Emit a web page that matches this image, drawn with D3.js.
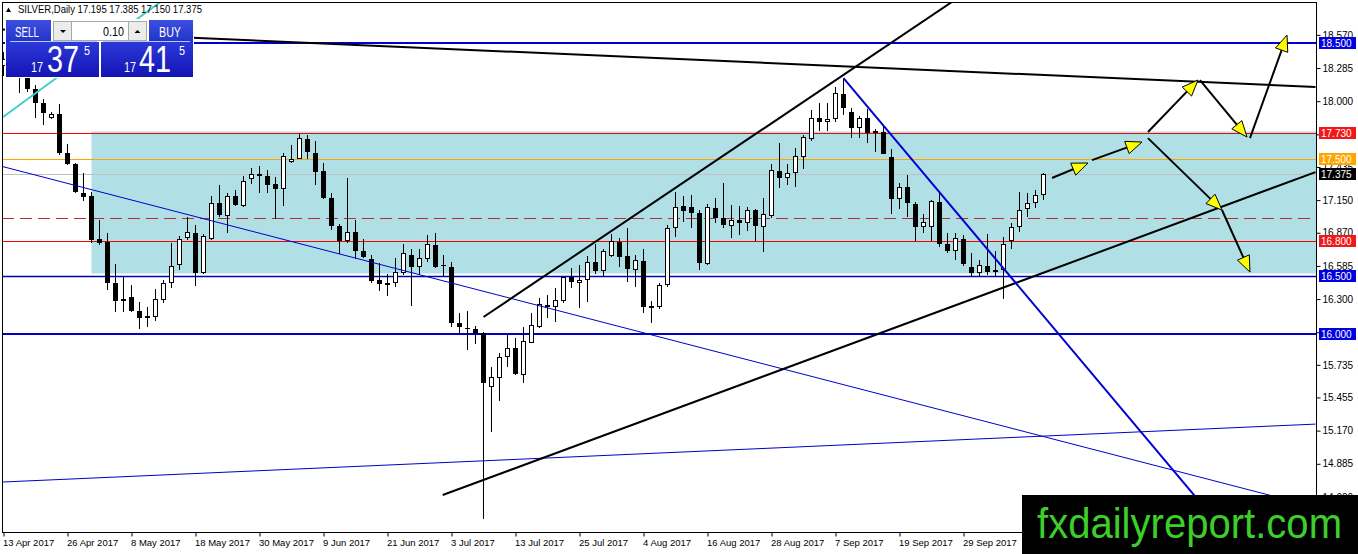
<!DOCTYPE html>
<html><head><meta charset="utf-8">
<script src="https://cdn.jsdelivr.net/npm/d3@7/dist/d3.min.js"></script>
<style>
html,body{margin:0;padding:0;background:#fff;}
svg{display:block;}
</style></head><body>
<svg id="c" width="1358" height="554"></svg>
<script>
// ---------------- DATA ----------------
const symbolTitle = "SILVER,Daily";
const lastQuote = ["17.195","17.385","17.150","17.375"];
const tickDates = ["13 Apr 2017","26 Apr 2017","8 May 2017","18 May 2017","30 May 2017","9 Jun 2017","21 Jun 2017","3 Jul 2017","13 Jul 2017","25 Jul 2017","4 Aug 2017","16 Aug 2017","28 Aug 2017","7 Sep 2017","19 Sep 2017","29 Sep 2017"];
const tickBars = [0,8,16,24,32,40,48,56,64,72,80,88,96,104,112,120];
const priceTicks = [18.570,18.285,18.000,17.715,17.435,17.150,16.870,16.585,16.300,16.015,15.735,15.455,15.170,14.885,14.600];

const opens = [18.30,18.36,18.32,18.25,18.104,17.984,17.855,17.890,17.555,17.460,
17.211,17.185,16.816,16.790,16.438,16.283,16.318,16.198,16.137,16.146,
16.292,16.438,16.592,16.824,16.867,16.524,16.816,17.125,17.014,17.185,
17.099,17.331,17.374,17.357,17.288,17.245,17.478,17.504,17.676,17.555,
17.400,17.168,16.927,16.798,16.876,16.713,16.644,16.464,16.420,16.438,
16.524,16.678,16.575,16.644,16.764,16.592,16.575,16.094,16.051,16.043,
16.009,15.544,15.622,15.802,15.879,15.647,15.922,16.060,16.249,16.232,
16.283,16.489,16.438,16.464,16.618,16.541,16.670,16.790,16.670,16.549,
16.627,16.223,16.232,16.420,16.910,17.099,17.091,17.039,16.601,17.082,
16.996,16.927,16.979,16.953,17.065,16.919,17.014,17.400,17.340,17.383,
17.521,17.676,17.855,17.821,17.847,18.061,17.907,17.769,17.855,17.727,
17.735,17.521,17.159,17.263,17.117,16.919,16.919,17.134,16.773,16.713,
16.816,16.575,16.524,16.584,16.532,16.549,16.798,16.919,17.073,17.125,
17.195];
const highs = [18.42,18.44,18.40,18.30,18.139,18.018,17.907,17.976,17.632,17.470,
17.383,17.220,16.979,16.867,16.601,16.489,16.420,16.275,16.232,16.386,
16.464,16.781,16.842,17.005,16.936,16.859,17.185,17.280,17.211,17.237,
17.357,17.426,17.443,17.409,17.348,17.555,17.624,17.718,17.710,17.658,
17.469,17.211,16.945,17.340,16.979,16.816,16.678,16.610,16.515,16.652,
16.773,16.730,16.730,16.850,16.867,16.678,16.618,16.180,16.198,16.069,
16.020,15.716,15.836,15.991,15.965,16.060,16.180,16.309,16.335,16.395,
16.490,16.567,16.592,16.670,16.773,16.730,16.859,16.824,16.910,16.678,
16.730,16.283,16.438,16.936,17.220,17.185,17.194,17.065,17.117,17.168,
17.297,17.108,17.099,17.091,17.070,17.168,17.460,17.641,17.460,17.598,
17.710,17.924,17.984,17.984,18.122,18.190,17.941,17.872,17.933,17.761,
17.795,17.589,17.297,17.366,17.134,17.031,17.151,17.211,16.867,16.867,
16.850,16.696,16.635,16.859,16.713,16.833,16.953,17.220,17.211,17.237,
17.385];
const lows = [18.22,18.23,18.07,18.079,17.855,17.795,17.850,17.538,17.452,17.211,
17.142,16.781,16.764,16.378,16.189,16.189,16.189,16.043,16.060,16.112,
16.266,16.395,16.549,16.807,16.412,16.515,16.807,17.005,16.867,17.099,
17.091,17.288,17.211,17.211,16.988,17.099,17.469,17.500,17.504,17.280,
17.159,16.893,16.687,16.781,16.644,16.652,16.438,16.369,16.326,16.403,
16.507,16.240,16.507,16.618,16.570,16.498,16.060,16.000,15.862,15.914,
14.410,15.157,15.424,15.716,15.647,15.579,15.920,16.055,16.137,16.103,
16.266,16.395,16.223,16.275,16.515,16.489,16.661,16.575,16.446,16.403,
16.180,16.094,16.215,16.403,16.833,16.962,16.910,16.549,16.592,16.953,
16.910,16.824,16.850,16.884,16.798,16.704,16.996,17.254,17.280,17.263,
17.417,17.658,17.744,17.744,17.821,17.881,17.684,17.684,17.641,17.564,
17.546,17.031,17.073,17.005,16.798,16.867,16.798,16.747,16.696,16.635,
16.584,16.489,16.489,16.507,16.489,16.300,16.730,16.876,17.005,17.082,
17.150];
const closes = [18.36,18.32,18.25,18.104,17.984,17.898,17.890,17.555,17.460,17.220,
17.177,16.807,16.781,16.438,16.283,16.300,16.198,16.137,16.155,16.300,
16.438,16.584,16.816,16.876,16.524,16.842,17.125,17.022,17.185,17.108,
17.314,17.374,17.357,17.280,17.245,17.529,17.504,17.684,17.564,17.391,
17.168,16.927,16.798,16.876,16.713,16.661,16.455,16.429,16.438,16.532,
16.696,16.575,16.652,16.773,16.575,16.584,16.094,16.060,16.043,16.009,
15.579,15.630,15.802,15.879,15.656,15.939,16.077,16.257,16.232,16.292,
16.489,16.446,16.464,16.618,16.541,16.713,16.798,16.661,16.558,16.635,
16.232,16.240,16.420,16.910,17.091,17.056,17.039,16.610,17.091,16.996,
16.936,16.979,16.953,17.065,16.927,17.031,17.409,17.340,17.383,17.529,
17.693,17.855,17.821,17.847,18.070,17.941,17.769,17.855,17.727,17.744,
17.546,17.159,17.263,17.125,16.919,16.962,17.142,16.773,16.713,16.824,
16.601,16.524,16.592,16.532,16.549,16.773,16.919,17.065,17.125,17.194,
17.375];

// horizontal levels (price)
const levelResistTop = 18.500;
const levelRedHigh = 17.730;
const levelOrange = 17.500;
const levelBid = 17.375;
const levelMidDashed = 17.000;
const levelRedLow = 16.800;
const levelBlueLow = 16.500;
const levelSupport = 16.000;

// shaded zone: start bar, top price, bottom price
const zoneStartBar = 11;
const zoneTop = 17.74;
const zoneBottom = 16.52;

// trend lines: pairs of [bar index, price]
const lineUpperResistance = [[-0.2,18.617],[164,18.122]];
const lineChannelUpper = [[60,16.146],[118.9,18.869]];
const lineChannelLower = [[54.9,14.617],[164,17.391]];
const lineSteepBlue = [[105,18.199],[152.7,14.299]];
const lineThinBlueDown = [[-0.2,17.440],[164,14.513]];
const lineThinBlueUp = [[-0.2,14.728],[164,15.226]];
const lineCyan = [[-0.06,17.864],[19.94,18.869]];

// projected path arrows: [from, to] as [bar index, price]
const arrowPaths = [
  [[131.06,17.340],[135.56,17.469]],
  [[136.06,17.494],[142.31,17.649]],
  [[143.06,17.735],[149.31,18.182]],
  [[149.56,18.182],[155.44,17.692]],
  [[155.81,17.683],[160.44,18.568]],
  [[143.06,17.683],[152.31,17.065]],
  [[152.31,17.065],[155.81,16.532]]
];

// ---------------- DRAW ----------------
const W = 1358, H = 554;
const plotL = 2, plotR = 1317, plotT = 2, plotB = 532;
const FONT = "'Liberation Sans', Arial, sans-serif";

const x = d3.scaleLinear().domain([0, 164]).range([3.5, 1315.5]);
const y = d3.scaleLinear().domain([16, 18.5]).range([334, 43]);

const svg = d3.select('#c');
svg.append('rect').attr('width', W).attr('height', H).attr('fill', '#fff');
const defs = svg.append('defs');
defs.append('clipPath').attr('id', 'plot').append('rect')
  .attr('x', plotL).attr('y', plotT).attr('width', plotR - plotL).attr('height', plotB - plotT);

const gBtn = defs.append('linearGradient').attr('id', 'gBtn').attr('x1', 0).attr('y1', 0).attr('x2', 0).attr('y2', 1);
gBtn.append('stop').attr('offset', '0%').attr('stop-color', '#3d4fe0');
gBtn.append('stop').attr('offset', '100%').attr('stop-color', '#2233c8');
const gBig = defs.append('linearGradient').attr('id', 'gBig').attr('x1', 0).attr('y1', 0).attr('x2', 0).attr('y2', 1);
gBig.append('stop').attr('offset', '0%').attr('stop-color', '#2c38d8');
gBig.append('stop').attr('offset', '100%').attr('stop-color', '#1414b4');

const g = svg.append('g').attr('clip-path', 'url(#plot)');

// zone
g.append('rect')
  .attr('x', x(zoneStartBar)).attr('y', y(zoneTop))
  .attr('width', plotR - x(zoneStartBar)).attr('height', y(zoneBottom) - y(zoneTop))
  .attr('fill', '#b0e0e6');

// horizontal level lines
function hline(price, color, width, dash) {
  const yy = Math.round(y(price)) + (width % 2 ? 0.5 : 0);
  const l = g.append('line').attr('x1', plotL).attr('x2', plotR).attr('y1', yy).attr('y2', yy)
    .attr('stroke', color).attr('stroke-width', width);
  if (dash) l.attr('stroke-dasharray', dash);
}
hline(levelBid, '#c0c0c0', 1);
hline(levelMidDashed, '#b03030', 1, '12,6');
hline(levelOrange, '#ffa500', 1);
hline(levelRedHigh, '#ff0000', 1);
hline(levelRedLow, '#ff0000', 1);
hline(levelBlueLow, '#0000b4', 1.5);
hline(levelSupport, '#0000c0', 2);
hline(levelResistTop, '#0000d0', 2);

// candles
const bars = d3.range(opens.length);
g.append('g').selectAll('line').data(bars).join('line')
  .attr('x1', i => x(i)).attr('x2', i => x(i))
  .attr('y1', i => Math.round(y(highs[i]))).attr('y2', i => Math.round(y(lows[i])))
  .attr('stroke', '#000').attr('stroke-width', 1);
g.append('g').selectAll('rect').data(bars).join('rect')
  .each(function(i) {
    const o = opens[i], c = closes[i];
    const top = Math.round(y(Math.max(o, c)));
    const bot = Math.round(y(Math.min(o, c)));
    const el = d3.select(this);
    if (c >= o) {
      el.attr('x', x(i) - 2).attr('y', top + 0.5).attr('width', 4)
        .attr('height', Math.max(0, bot - top - 1))
        .attr('fill', '#fff').attr('stroke', '#000').attr('stroke-width', 1);
    } else {
      el.attr('x', x(i) - 2.5).attr('y', top).attr('width', 5)
        .attr('height', Math.max(1, bot - top)).attr('fill', '#000');
    }
  });

// trend lines
const lineGen = d3.line().x(d => x(d[0])).y(d => y(d[1]));
function tline(pts, color, width) {
  g.append('path').attr('d', lineGen(pts)).attr('fill', 'none')
    .attr('stroke', color).attr('stroke-width', width);
}
tline(lineThinBlueDown, '#0000c8', 1);
tline(lineThinBlueUp, '#0000c8', 1);
tline(lineCyan, '#40d0c8', 2);
tline(lineUpperResistance, '#000', 2);
tline(lineChannelUpper, '#000', 2);
tline(lineChannelLower, '#000', 2);
tline(lineSteepBlue, '#0000d0', 2);

// arrows
arrowPaths.forEach(seg => {
  const x1 = x(seg[0][0]), y1 = y(seg[0][1]), x2 = x(seg[1][0]), y2 = y(seg[1][1]);
  const len = Math.hypot(x2 - x1, y2 - y1);
  const ux = (x2 - x1) / len, uy = (y2 - y1) / len;
  const px = -uy, py = ux;
  const hl = 16, hw = 6.5;
  g.append('line').attr('x1', x1).attr('y1', y1).attr('x2', x2 - ux * 6).attr('y2', y2 - uy * 6)
    .attr('stroke', '#000').attr('stroke-width', 2);
  const bx = x2 - ux * hl, by = y2 - uy * hl;
  g.append('polygon')
    .attr('points', [[x2, y2], [bx + px * hw, by + py * hw], [bx - px * hw, by - py * hw]].map(p => p.join(',')).join(' '))
    .attr('fill', '#ffff00').attr('stroke', '#000').attr('stroke-width', 1);
});

// frame
svg.append('rect').attr('x', plotL + 0.5).attr('y', plotT + 0.5)
  .attr('width', plotR - plotL - 1).attr('height', plotB - plotT)
  .attr('fill', 'none').attr('stroke', '#000').attr('stroke-width', 1);

// right price axis
const yAxis = d3.axisRight(y).tickValues(priceTicks).tickFormat(d3.format('.3f')).tickSize(4).tickPadding(2);
const ya = svg.append('g').attr('transform', `translate(${plotR - 0.5},0)`).call(yAxis);
ya.select('.domain').remove();
ya.selectAll('text').attr('font-family', FONT).attr('font-size', 10).attr('fill', '#000');
ya.selectAll('line').attr('stroke', '#000');

// bottom date axis
const xAxis = d3.axisBottom(x).tickValues(tickBars).tickFormat((d, i) => tickDates[i]).tickSize(4).tickPadding(3);
const xa = svg.append('g').attr('transform', `translate(0,${plotB + 0.5})`).call(xAxis);
xa.select('.domain').remove();
xa.selectAll('text').attr('font-family', FONT).attr('font-size', 9.5).attr('fill', '#000')
  .attr('text-anchor', 'start').attr('x', -1);
xa.selectAll('line').attr('stroke', '#000');

// price label boxes
function plabel(price, bg, fg) {
  const yy = Math.round(y(price));
  svg.append('rect').attr('x', 1319).attr('y', yy - 6).attr('width', 37).attr('height', 12).attr('fill', bg);
  svg.append('text').attr('x', 1321).attr('y', yy + 4).attr('font-family', FONT).attr('font-size', 10)
    .attr('fill', fg).text(d3.format('.3f')(price));
}
plabel(levelResistTop, '#0000e0', '#fff');
plabel(levelRedHigh, '#f01818', '#fff');
plabel(levelOrange, '#ffa500', '#fff');
plabel(levelBid, '#000', '#fff');
plabel(levelRedLow, '#f01818', '#fff');
plabel(levelBlueLow, '#0000e0', '#fff');
plabel(levelSupport, '#0000e0', '#fff');

// title
svg.append('path').attr('d', 'M6,12 L11,12 L8.5,7.5 Z').attr('fill', '#000');
svg.append('text').attr('x', 18).attr('y', 13).attr('font-family', FONT).attr('font-size', 10.5)
  .attr('fill', '#000').attr('textLength', 184).attr('lengthAdjust', 'spacingAndGlyphs')
  .text(symbolTitle + '  ' + lastQuote.join(' '));

// one-click trading panel
const p = svg.append('g');
function ptext(tx, ty, str, size, len, anchor, color) {
  const t = p.append('text').attr('x', tx).attr('y', ty).attr('font-family', FONT)
    .attr('font-size', size).attr('fill', color || '#fff').attr('text-anchor', anchor || 'start').text(str);
  if (len) t.attr('textLength', len).attr('lengthAdjust', 'spacingAndGlyphs');
}
p.append('rect').attr('x', 5).attr('y', 19).attr('width', 189).attr('height', 59).attr('fill', '#fff');
p.append('rect').attr('x', 6).attr('y', 20).attr('width', 45).attr('height', 22).attr('fill', 'url(#gBtn)');
p.append('rect').attr('x', 149).attr('y', 20).attr('width', 44).attr('height', 22).attr('fill', 'url(#gBtn)');
p.append('rect').attr('x', 53.5).attr('y', 21.5).attr('width', 18).attr('height', 19).attr('fill', '#ececec').attr('stroke', '#a8a8a8');
p.append('rect').attr('x', 71.5).attr('y', 21.5).attr('width', 57).attr('height', 19).attr('fill', '#fff').attr('stroke', '#a8a8a8');
p.append('rect').attr('x', 128.5).attr('y', 21.5).attr('width', 18).attr('height', 19).attr('fill', '#ececec').attr('stroke', '#a8a8a8');
p.append('path').attr('d', 'M60,30 L66,30 L63,33 Z').attr('fill', '#000');
p.append('path').attr('d', 'M134.5,33 L140.5,33 L137.5,30 Z').attr('fill', '#000');
ptext(124, 36, '0.10', 13, 21, 'end', '#000');
ptext(15, 37, 'SELL', 15, 24);
ptext(159, 37, 'BUY', 15, 22);
p.append('rect').attr('x', 6).attr('y', 42).attr('width', 93).attr('height', 35).attr('fill', 'url(#gBig)');
p.append('rect').attr('x', 101).attr('y', 42).attr('width', 92).attr('height', 35).attr('fill', 'url(#gBig)');
p.append('line').attr('x1', 10).attr('x2', 97).attr('y1', 41.5).attr('y2', 41.5).attr('stroke', '#b8c4ff').attr('stroke-width', 1);
p.append('line').attr('x1', 103).attr('x2', 190).attr('y1', 41.5).attr('y2', 41.5).attr('stroke', '#b8c4ff').attr('stroke-width', 1);
ptext(31, 72, '17', 15, 12);
ptext(47, 72, '37', 36, 32);
ptext(84, 55, '5', 12, 6);
ptext(124, 72, '17', 15, 12);
ptext(139, 72, '41', 36, 32);
ptext(179, 55, '5', 12, 6);

// watermark
svg.append('rect').attr('x', 1022).attr('y', 495).attr('width', 336).attr('height', 59).attr('fill', '#000');
svg.append('text').attr('x', 1037).attr('y', 538).attr('font-family', FONT).attr('font-size', 42)
  .attr('fill', '#3ccf2a').attr('textLength', 305).attr('lengthAdjust', 'spacingAndGlyphs').text('fxdailyreport.com');
</script>
</body></html>
